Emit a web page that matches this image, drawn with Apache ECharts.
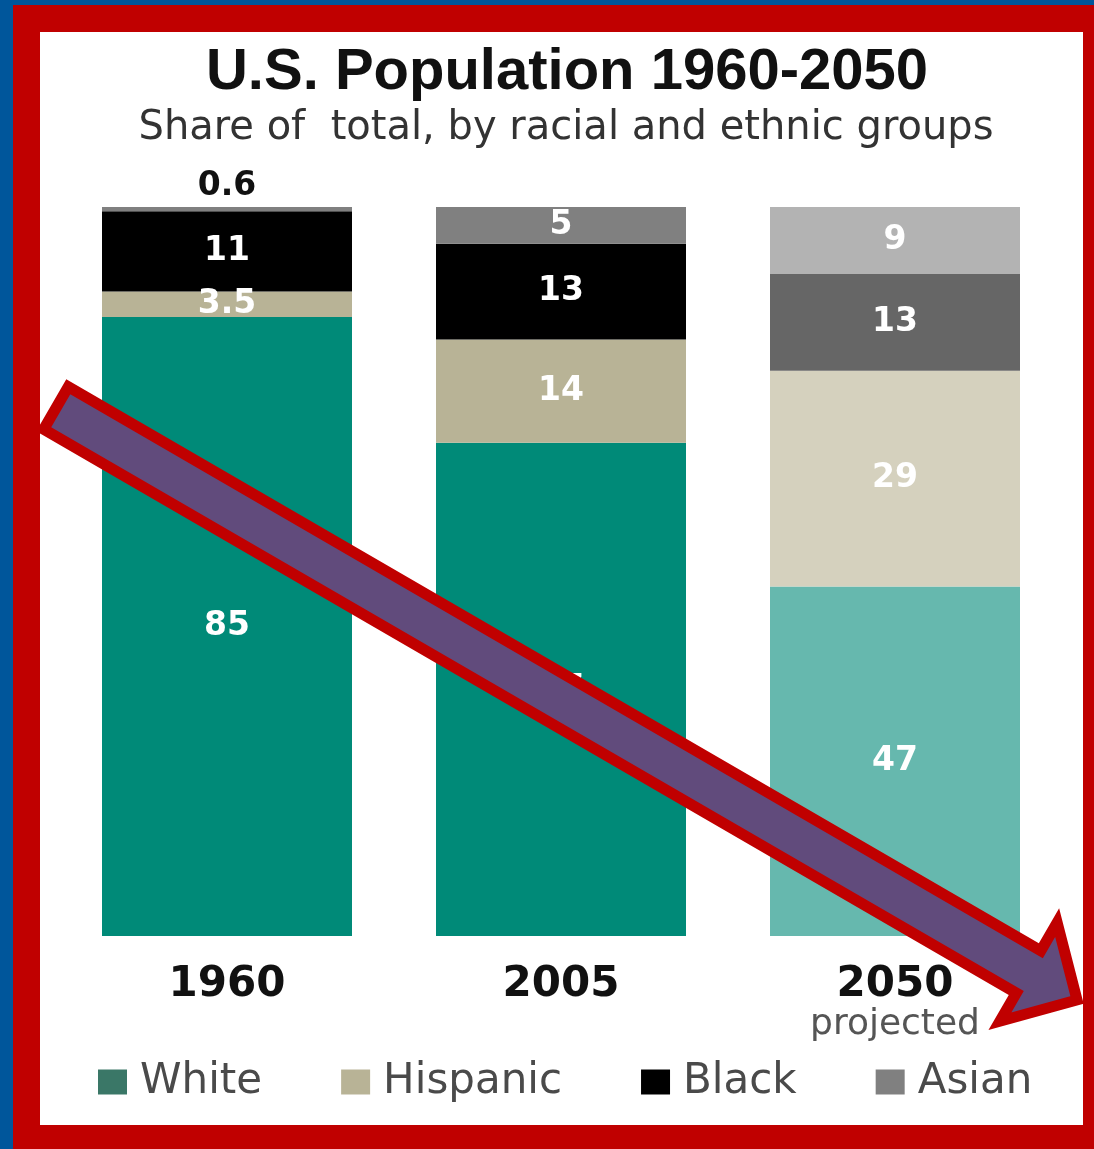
<!DOCTYPE html>
<html>
<head>
<meta charset="utf-8">
<script src="https://cdn.jsdelivr.net/npm/echarts@6/dist/echarts.min.js"></script>
<style>
  html, body { margin: 0; padding: 0; background: #00569B; }
  #chart { width: 1094px; height: 1149px; }
</style>
</head>
<body>
<div id="chart"></div>
<script>
// ---- data (percent share of total) ----
const categories = ['1960', '2005', '2050'];
const seriesNames = ['White', 'Hispanic', 'Black', 'Asian'];
const white    = [85, 67, 47];
const hispanic = [3.5, 14, 29];
const black    = [11, 13, 13];
const asian    = [0.6, 5, 9];

// ---- styles ----
const legendColors = ['#3A7767', '#B8B396', '#000000', '#808080'];
const barColors = {
  White:    ['#008A78', '#008A78', '#66B8AE'],
  Hispanic: ['#B8B396', '#B8B396', '#D5D1BE'],
  Black:    ['#000000', '#000000', '#666666'],
  Asian:    ['#808080', '#808080', '#B3B3B3']
};

const raw = { White: white, Hispanic: hispanic, Black: black, Asian: asian };
const totals = categories.map((c, i) => white[i] + hispanic[i] + black[i] + asian[i]);

const series = seriesNames.map((name, si) => ({
  name: name,
  type: 'bar',
  stack: 'pop',
  barWidth: 250,
  itemStyle: { color: legendColors[si] },
  data: raw[name].map((v, i) => ({
    value: v / totals[i] * 100,
    raw: v,
    itemStyle: { color: barColors[name][i] },
    label: (name === 'Asian' && i === 0)
      ? { position: 'top', distance: 4, color: '#111' }
      : {}
  })),
  label: {
    show: true,
    position: 'inside',
    color: '#ffffff',
    fontFamily: 'DejaVu Sans',
    fontWeight: 'bold',
    fontSize: 33,
    formatter: p => String(p.data.raw)
  }
}));

// ---- arrow annotation geometry ----
const tail = [56, 408], tip = [1077, 1000];
const shaftW = 49, headW = 114, headL = 56;
function arrowPoints() {
  const dx = tip[0] - tail[0], dy = tip[1] - tail[1];
  const len = Math.sqrt(dx * dx + dy * dy);
  const d = [dx / len, dy / len];
  const n = [-d[1], d[0]];
  const base = [tip[0] - d[0] * headL, tip[1] - d[1] * headL];
  const off = (p, k) => [p[0] + n[0] * k, p[1] + n[1] * k];
  return [
    off(tail, -shaftW / 2), off(base, -shaftW / 2), off(base, -headW / 2),
    tip,
    off(base, headW / 2), off(base, shaftW / 2), off(tail, shaftW / 2)
  ];
}

const chart = echarts.init(document.getElementById('chart'), null, { renderer: 'canvas' });
chart.setOption({
  backgroundColor: '#00569B',
  animation: false,
  title: [
    {
      text: 'U.S. Population 1960-2050',
      left: 562, top: 39, textAlign: 'center',
      textStyle: { fontFamily: 'Liberation Sans', fontWeight: 'bold', fontSize: 58, color: '#111' }
    },
    {
      text: 'Share of  total, by racial and ethnic groups',
      left: 561, top: 104, textAlign: 'center',
      textStyle: { fontFamily: 'DejaVu Sans', fontWeight: 'normal', fontSize: 40, color: '#333' }
    }
  ],
  legend: {
    data: seriesNames,
    left: 98, top: 1061,
    padding: 0,
    icon: 'rect',
    itemWidth: 29, itemHeight: 25,
    itemGap: 79,
    textStyle: { fontFamily: 'DejaVu Sans', fontSize: 42, color: '#4a4a4a', padding: [0, 0, 0, 8] }
  },
  grid: { left: 60, right: 32, top: 207, bottom: 213, containLabel: false, outerBoundsMode: 'none' },
  xAxis: {
    type: 'category',
    data: categories,
    axisLine: { show: false },
    axisTick: { show: false },
    axisLabel: {
      margin: 26,
      formatter: v => v === '2050' ? '{y|' + v + '}\n{p|projected}' : '{y|' + v + '}',
      rich: {
        y: { fontFamily: 'DejaVu Sans', fontWeight: 'bold', fontSize: 42, color: '#111', lineHeight: 46 },
        p: { fontFamily: 'DejaVu Sans', fontSize: 36, color: '#555', lineHeight: 34 }
      }
    }
  },
  yAxis: {
    type: 'value', min: 0, max: 100, show: false,
    splitLine: { show: false }
  },
  series: series,
  graphic: [
    { type: 'rect', z: -10, silent: true, shape: { x: 13, y: 5, width: 1081, height: 1144 }, style: { fill: '#C00000' } },
    { type: 'rect', z: -9, silent: true, shape: { x: 40, y: 32, width: 1043, height: 1093 }, style: { fill: '#FFFFFF' } },
    {
      type: 'polygon', z: 100, silent: true,
      shape: { points: arrowPoints() },
      style: { fill: '#614B7C', stroke: '#C00000', lineWidth: 11, lineJoin: 'miter', miterLimit: 10 }
    }
  ]
});
</script>
</body>
</html>
